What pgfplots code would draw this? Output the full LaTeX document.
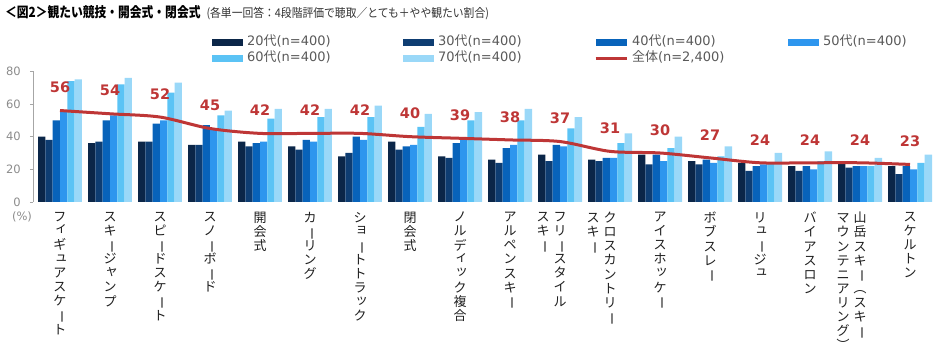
\documentclass[border=0pt]{standalone}
\usepackage{graphicx}
\usepackage{pgfplots}
\usepackage{pgfplotstable}
\pgfplotsset{compat=1.18}
\usepackage{fontspec}
\setmainfont{Noto Sans CJK JP}
\newfontfamily\dv{DejaVu Sans}
\newfontfamily\ttl[FakeStretch=0.84]{Noto Sans CJK JP}
\newfontfamily\sub[FakeStretch=0.9]{Noto Sans CJK JP}
\definecolor{c20}{HTML}{0B2648}
\definecolor{c30}{HTML}{0E3D72}
\definecolor{c40}{HTML}{0863BA}
\definecolor{c50}{HTML}{2E96EE}
\definecolor{c60}{HTML}{5BC3F5}
\definecolor{c70}{HTML}{9AD8F8}
\definecolor{cl}{HTML}{BE3636}
\definecolor{tx}{HTML}{595959}
\definecolor{gx}{HTML}{8C8C8C}
% vertical text helpers
\expandafter\def\csname vk@ー\endcsname{\rotatebox[origin=c]{-90}{ー}}
\expandafter\def\csname vk@（\endcsname{\rotatebox[origin=c]{-90}{（}}
\expandafter\def\csname vk@）\endcsname{\rotatebox[origin=c]{-90}{）}}
\expandafter\def\csname vk@ィ\endcsname{\kern3pt\raisebox{2.5pt}{ィ}}
\expandafter\def\csname vk@ュ\endcsname{\kern3pt\raisebox{2.5pt}{ュ}}
\expandafter\def\csname vk@ャ\endcsname{\kern3pt\raisebox{2.5pt}{ャ}}
\expandafter\def\csname vk@ッ\endcsname{\kern3pt\raisebox{2.5pt}{ッ}}
\expandafter\def\csname vk@ョ\endcsname{\kern3pt\raisebox{2.5pt}{ョ}}
\def\vsel#1{\ifcsname vk@#1\endcsname\csname vk@#1\endcsname\else#1\fi}
\def\vloop#1{\ifx\relax#1\else\hbox to 14pt{\hss\vsel{#1}\hss}\expandafter\vloop\fi}
\protected\def\vt#1{\vtop{\baselineskip=14.1pt\lineskiplimit=-100pt\lineskip=0pt\vloop#1\relax}}
\protected\def\vtt#1#2{\hbox{\llap{\vt{#2}\kern3pt}\vt{#1}}}
\newcommand\legent[2]{\makebox[156pt][l]{{\dv #1}代{\dv (n=#2)}}}

\pgfplotstableread{
x s20 s30 s40 s50 s60 s70 tot
0 40 38 50 55 74 75 56
1 36 37 50 53 72 76 54
2 37 37 48 50 67 73 52
3 35 35 47 45 53 56 45
4 37 34 36 37 51 57 42
5 34 32 38 37 52 57 42
6 28 30 40 38 52 59 42
7 37 32 34 35 46 54 40
8 28 27 36 38 50 55 39
9 26 24 33 35 50 57 38
10 29 25 35 34 45 52 37
11 26 25 27 27 36 42 31
12 29 23 29 25 33 40 30
13 25 23 26 24 28 34 27
14 24 19 22 23 24 30 24
15 22 19 22 20 25 31 24
16 25 21 22 22 22 27 24
17 22 17 22 20 24 29 23
}\data

\begin{document}
\begin{tikzpicture}
\path[use as bounding box] (0pt,0pt) rectangle (934pt,353pt);
\node[anchor=west, inner sep=0pt] at (5pt,340pt) {\ttl\fontsize{14}{16}\selectfont\bfseries ＜図2＞観たい競技・開会式・閉会式\hspace{6pt}\sub\mdseries\fontsize{12}{14}\selectfont\color{black!80}(各単一回答：4段階評価で聴取／とても＋やや観たい割合)};
\begin{axis}[
  at={(33pt,151pt)}, anchor=south west,
  scale only axis, width=901pt, height=130.7pt,
  xmin=-0.54, xmax=17.48, ymin=0, ymax=80,
  enlargelimits=false, clip=false,
  axis y line*=left, axis x line*=bottom,
  x axis line style={draw=none},
  y axis line style={draw=black!35, line width=0.8pt},
  xtick={0,...,17}, xtick style={draw=none},
  ytick={0,20,40,60,80},
  ytick style={draw=black!35, line width=0.8pt},
  tick align=outside, major tick length=3pt,
  /pgf/number format/assume math mode=true,
  yticklabel style={font=\dv\fontsize{11.5}{12}\selectfont, text=gx, inner sep=0pt, xshift=-9pt},
  xticklabel style={font=\fontsize{13}{14}\selectfont, text=black!88, anchor=north, inner sep=0pt, yshift=-7pt},
  xticklabels={{\vt{フィギュアスケート}},{\vt{スキージャンプ}},{\vt{スピードスケート}},{\vt{スノーボード}},{\vt{開会式}},{\vt{カーリング}},{\vt{ショートトラック}},{\vt{閉会式}},{\vt{ノルディック複合}},{\vt{アルペンスキー}},{\vtt{フリースタイル}{スキー}},{\vtt{クロスカントリー}{スキー}},{\vt{アイスホッケー}},{\vt{ボブスレー}},{\vt{リュージュ}},{\vt{バイアスロン}},{\vtt{山岳スキー（スキー}{マウンテニアリング）}},{\vt{スケルトン}}},
  legend columns=4,
  legend cell align=left,
  legend style={draw=none, fill=none, inner sep=0pt, outer sep=0pt,
    at={(0.19867,1.27)}, anchor=north west,
    font=\fontsize{13}{15}\selectfont, text=tx,
    nodes={inner sep=0pt, text height=9.5pt, text depth=2.5pt},
    column sep=0pt, row sep=4pt,
    /tikz/every odd column/.append style={column sep=4pt}},
]
\addplot[ybar, bar width=7.33pt, bar shift=-18.33pt, fill=c20, draw=none,
  legend image code/.code={\fill[c20] (0pt,-3.5pt) rectangle (31pt,3.5pt);}] table[x=x,y=s20]{\data};
\addlegendentry{\legent{20}{400}}
\addplot[ybar, bar width=7.33pt, bar shift=-11pt, fill=c30, draw=none,
  legend image code/.code={\fill[c30] (0pt,-3.5pt) rectangle (31pt,3.5pt);}] table[x=x,y=s30]{\data};
\addlegendentry{\legent{30}{400}}
\addplot[ybar, bar width=7.33pt, bar shift=-3.67pt, fill=c40, draw=none,
  legend image code/.code={\fill[c40] (0pt,-3.5pt) rectangle (31pt,3.5pt);}] table[x=x,y=s40]{\data};
\addlegendentry{\legent{40}{400}}
\addplot[ybar, bar width=7.33pt, bar shift=3.67pt, fill=c50, draw=none,
  legend image code/.code={\fill[c50] (0pt,-3.5pt) rectangle (31pt,3.5pt);}] table[x=x,y=s50]{\data};
\addlegendentry{\legent{50}{400}}
\addplot[ybar, bar width=7.33pt, bar shift=11pt, fill=c60, draw=none,
  legend image code/.code={\fill[c60] (0pt,-3.5pt) rectangle (31pt,3.5pt);}] table[x=x,y=s60]{\data};
\addlegendentry{\legent{60}{400}}
\addplot[ybar, bar width=7.33pt, bar shift=18.33pt, fill=c70, draw=none,
  legend image code/.code={\fill[c70] (0pt,-3.5pt) rectangle (31pt,3.5pt);}] table[x=x,y=s70]{\data};
\addlegendentry{\legent{70}{400}}
\addplot[cl, line width=3pt, smooth, mark=none,
  nodes near coords,
  every node near coord/.append style={anchor=center, yshift=23pt, font=\dv\bfseries\fontsize{14.5}{15}\selectfont, text=cl},
  legend image code/.code={\draw[cl, line width=3pt] (0pt,0pt) -- (31pt,0pt);}] table[x=x,y=tot]{\data};
\addlegendentry{\makebox[156pt][l]{全体{\dv (n=2,400)}}}
\node[font=\dv\fontsize{11.5}{12}\selectfont, text=gx, xshift=-11pt, yshift=-15pt] at (rel axis cs:0,0) {(\%)};
\end{axis}
\end{tikzpicture}
\end{document}
